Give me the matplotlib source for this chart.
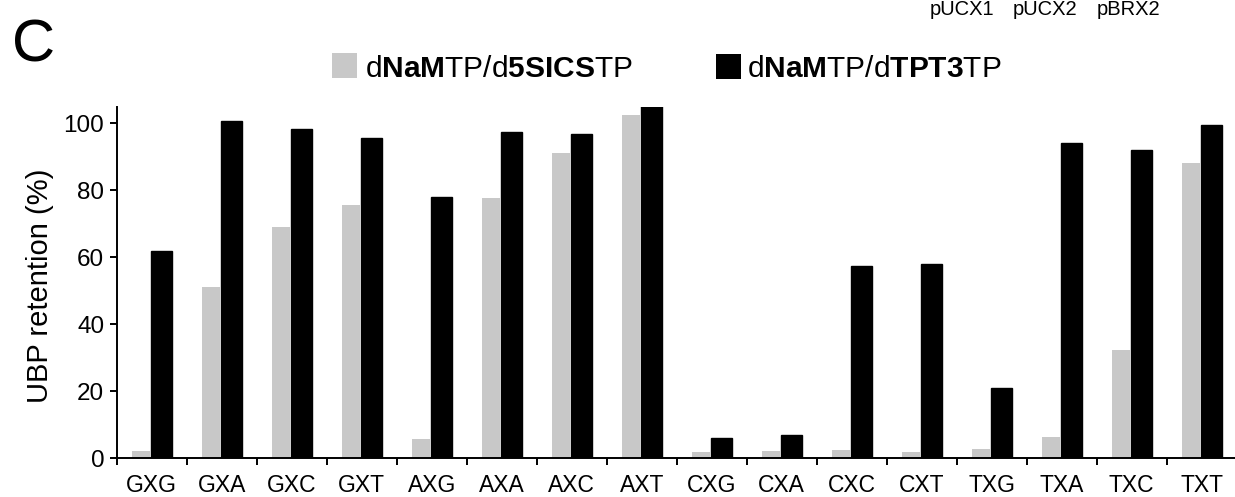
import matplotlib
matplotlib.use("Agg")
import matplotlib.pyplot as plt
from matplotlib.patches import Rectangle
import numpy as np

plt.rcParams['font.family'] = ['Liberation Sans', 'DejaVu Sans']
plt.rcParams['mathtext.fontset'] = 'custom'
plt.rcParams['mathtext.rm'] = 'Liberation Sans'
plt.rcParams['mathtext.bf'] = 'Liberation Sans:bold'

categories = ["GXG", "GXA", "GXC", "GXT", "AXG", "AXA", "AXC", "AXT",
              "CXG", "CXA", "CXC", "CXT", "TXG", "TXA", "TXC", "TXT"]
sics_values = [2.3, 51, 69, 75.6, 5.9, 77.8, 91, 102.5,
               2.0, 2.2, 2.5, 1.8, 2.9, 6.4, 32.3, 88.2]
tpt3_values = [62, 100.8, 98.4, 95.7, 78.1, 97.3, 96.7, 105.2,
               6.2, 7.0, 57.5, 58.1, 20.9, 94, 92, 99.6]
label_sics = r"d$\mathbf{NaM}$TP/d$\mathbf{5SICS}$TP"
label_tpt3 = r"d$\mathbf{NaM}$TP/d$\mathbf{TPT3}$TP"
plasmids = ["pUCX1", "pUCX2", "pBRX2"]
yticks = [0, 20, 40, 60, 80, 100]

W, H = 1235, 497
fig = plt.figure(figsize=(W / 100, H / 100), dpi=100)
ax = fig.add_axes([116.7 / W, 38.7 / H, 1120 / W, 351.75 / H])

x = np.arange(len(categories))
gray = "#c8c8c8"
ax.bar(x - 0.155, sics_values, width=0.26, color=gray, edgecolor="none", zorder=2)
ax.bar(x + 0.135, tpt3_values, width=0.30, color="black", edgecolor="black",
       linewidth=1.0, zorder=3)

ax.set_xlim(-0.5, len(categories) - 0.5)
ax.set_ylim(0, 105)
ax.set_yticks(yticks)
ax.set_yticklabels([str(v) for v in yticks], fontsize=17.5)
ax.set_xticks(x)
ax.set_xticklabels(categories, fontsize=16.5)
ax.set_xticks(np.arange(len(categories) + 1) - 0.5, minor=True)
ax.tick_params(axis='x', which='major', length=0, pad=11)
ax.tick_params(axis='x', which='minor', length=5, width=1.4, direction='out')
ax.tick_params(axis='y', which='major', length=5, width=1.4, direction='out', pad=4)

for s in ["top", "right"]:
    ax.spines[s].set_visible(False)
for s in ["left", "bottom"]:
    ax.spines[s].set_linewidth(1.4)

ax.set_ylabel("UBP retention (%)", fontsize=21)
ax.yaxis.set_label_coords((54 - 116.7) / 1120, 0.49)

# panel letter
fig.text(12 / W, 1 - 61 / H, "C", fontsize=43, ha='left', va='baseline')

# legend (manual)
sq = 25
fig.patches.append(Rectangle((332 / W, 1 - 78 / H), sq / W, sq / H,
                             transform=fig.transFigure, facecolor=gray,
                             edgecolor='none'))
fig.text(365 / W, 1 - 77 / H, label_sics, fontsize=21.5, ha='left', va='baseline')
fig.patches.append(Rectangle((716 / W, 1 - 79 / H), sq / W, sq / H,
                             transform=fig.transFigure, facecolor='black',
                             edgecolor='none'))
fig.text(747 / W, 1 - 77 / H, label_tpt3, fontsize=21.5, ha='left', va='baseline')

# header text at the top edge
for px, t in zip([930, 1013, 1097], plasmids):
    fig.text(px / W, 1 - 15 / H, t, fontsize=14.5, ha='left', va='baseline')

fig.savefig("out.png", dpi=100)
